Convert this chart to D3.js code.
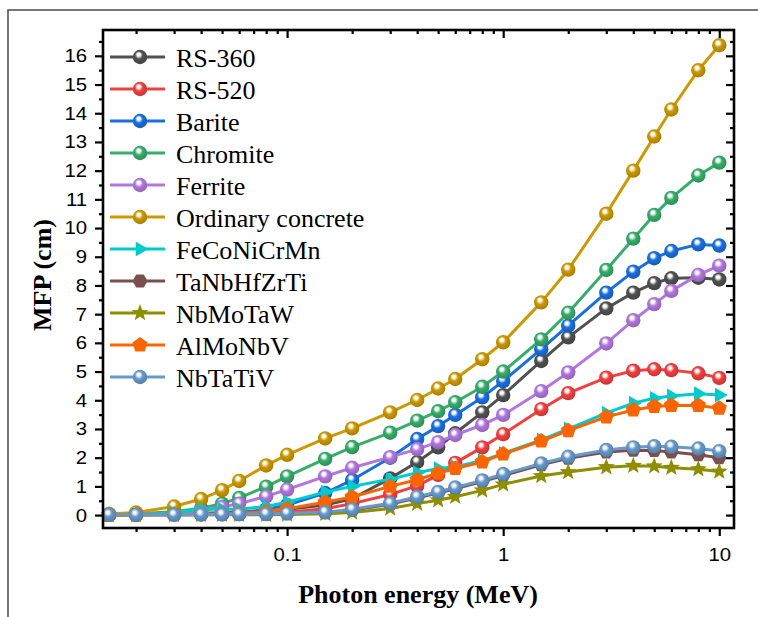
<!DOCTYPE html>
<html><head><meta charset="utf-8">
<script src="https://cdn.jsdelivr.net/npm/d3@7"></script>
<style>body{margin:0;background:#fff}svg{display:block}</style>
</head><body>
<svg id="c" width="758" height="617"></svg>
<script>
const energies = [0.015,0.02,0.03,0.04,0.05,0.06,0.08,0.1,0.15,0.2,0.3,0.4,0.5,0.6,0.8,1,1.5,2,3,4,5,6,8,10];
const seriesNames = ["RS-360","RS-520","Barite","Chromite","Ferrite","Ordinary concrete","FeCoNiCrMn","TaNbHfZrTi","NbMoTaW","AlMoNbV","NbTaTiV"];
const rs360    = [0.01,0.02,0.04,0.06,0.08,0.10,0.14,0.20,0.35,0.57,1.28,1.85,2.36,2.85,3.58,4.18,5.37,6.19,7.20,7.75,8.08,8.25,8.27,8.21];
const rs520    = [0.01,0.01,0.02,0.03,0.04,0.05,0.07,0.10,0.22,0.40,0.72,1.02,1.40,1.82,2.36,2.82,3.69,4.25,4.79,5.03,5.08,5.05,4.94,4.78];
const barite   = [0.02,0.03,0.05,0.04,0.06,0.08,0.20,0.35,0.77,1.22,2.00,2.65,3.10,3.49,4.10,4.67,5.78,6.60,7.75,8.48,8.95,9.20,9.43,9.39];
const chromite = [0.02,0.05,0.12,0.24,0.40,0.60,0.99,1.35,1.96,2.37,2.87,3.29,3.62,3.93,4.47,5.00,6.12,7.05,8.54,9.63,10.46,11.05,11.83,12.28];
const ferrite  = [0.01,0.02,0.06,0.15,0.28,0.40,0.65,0.89,1.35,1.65,2.02,2.30,2.54,2.79,3.14,3.49,4.32,4.97,5.98,6.79,7.35,7.81,8.37,8.69];
const concrete = [0.04,0.09,0.30,0.56,0.87,1.19,1.73,2.10,2.67,3.02,3.58,4.01,4.41,4.74,5.43,6.02,7.41,8.55,10.50,12.00,13.19,14.13,15.50,16.37];
const feconicrmn=[0.01,0.02,0.08,0.20,0.20,0.20,0.30,0.45,0.80,1.00,1.25,1.48,1.62,1.68,1.90,2.15,2.62,3.00,3.55,3.90,4.07,4.15,4.23,4.18];
const tanbhfzrti=[0.005,0.01,0.01,0.01,0.02,0.02,0.03,0.05,0.08,0.17,0.38,0.60,0.77,0.92,1.17,1.38,1.75,1.98,2.20,2.26,2.25,2.20,2.10,2.00];
const nbmotaw  = [0.0,0.0,0.0,0.01,0.01,0.01,0.01,0.02,0.05,0.09,0.23,0.40,0.52,0.64,0.86,1.07,1.36,1.50,1.67,1.72,1.70,1.65,1.60,1.52];
const almonbv  = [0.0,0.01,0.02,0.03,0.04,0.06,0.12,0.22,0.45,0.63,1.00,1.23,1.46,1.62,1.85,2.13,2.58,2.94,3.42,3.66,3.78,3.82,3.82,3.72];
const nbtativ  = [0.01,0.01,0.01,0.02,0.02,0.03,0.04,0.06,0.10,0.20,0.41,0.64,0.81,0.96,1.21,1.43,1.80,2.03,2.27,2.36,2.40,2.38,2.32,2.23];
const seriesValues = [rs360,rs520,barite,chromite,ferrite,concrete,feconicrmn,tanbhfzrti,nbmotaw,almonbv,nbtativ];
const colors = ["#515151","#F14040","#1A6FDF","#37AD6B","#B177DE","#CC9900","#00CBCC","#7D4E4E","#8E8E00","#FB6501","#6699CC"];
const shapes = ["sphere","sphere","sphere","sphere","sphere","sphere","triangle","hexagon","star","pentagon","sphere"];
const yTicks = d3.range(0,17,1);
const xTicks = [0.1,1,10];

const svg = d3.select("#c");
const L=103, R=734, T=30, B=528;
const x = d3.scaleLog().domain([0.01406,11.7]).range([L,R]);
const y = d3.scaleLinear().domain([-0.45,16.9]).range([B,T]);

// outer frame
svg.append("rect").attr("x",8).attr("y",10).attr("width",780).attr("height",640)
  .attr("fill","none").attr("stroke","#555").attr("stroke-width",1.6);

const defs = svg.append("defs");
colors.forEach((c,i)=>{
  const g = defs.append("radialGradient").attr("id","g"+i).attr("cx","0.45").attr("cy","0.42").attr("r","0.6")
    .attr("fx","0.4").attr("fy","0.33");
  g.append("stop").attr("offset","0%").attr("stop-color","#fff");
  g.append("stop").attr("offset","18%").attr("stop-color","#fff").attr("stop-opacity",0.9);
  g.append("stop").attr("offset","45%").attr("stop-color",c);
  g.append("stop").attr("offset","100%").attr("stop-color",d3.color(c).darker(0.6));
});

function polyPath(n, r, rot){
  const pts=[];
  for(let k=0;k<n;k++){const a=rot+k*2*Math.PI/n; pts.push([r*Math.cos(a), r*Math.sin(a)]);}
  return "M"+pts.map(p=>p.join(",")).join("L")+"Z";
}
function starPath(r1,r2){
  const pts=[];
  for(let k=0;k<10;k++){const a=-Math.PI/2+k*Math.PI/5; const r=k%2?r2:r1; pts.push([r*Math.cos(a), r*Math.sin(a)]);}
  return "M"+pts.map(p=>p.join(",")).join("L")+"Z";
}
function drawMarker(g, shape, i, cx, cy){
  const c = colors[i];
  if(shape==="sphere"){
    g.append("circle").attr("cx",cx).attr("cy",cy).attr("r",7.2).attr("fill","url(#g"+i+")");
  } else if(shape==="triangle"){
    g.append("path").attr("transform",`translate(${cx},${cy})`).attr("d",polyPath(3,8.5,0)).attr("fill",c);
  } else if(shape==="hexagon"){
    g.append("path").attr("transform",`translate(${cx},${cy})`).attr("d",polyPath(6,7.5,0)).attr("fill",c);
  } else if(shape==="star"){
    g.append("path").attr("transform",`translate(${cx},${cy})`).attr("d",starPath(9,3.8)).attr("fill",c);
  } else if(shape==="pentagon"){
    g.append("path").attr("transform",`translate(${cx},${cy})`).attr("d",polyPath(5,8,-Math.PI/2)).attr("fill",c);
  }
}

const plot = svg.append("g");
const line = d3.line().x(d=>x(d[0])).y(d=>y(d[1]));
seriesValues.forEach((vals,i)=>{
  const data = energies.map((e,k)=>[e,vals[k]]);
  const g = plot.append("g");
  g.append("path").datum(data).attr("d",line).attr("fill","none").attr("stroke",colors[i]).attr("stroke-width",3).attr("stroke-linejoin","round");
  data.forEach(d=>drawMarker(g, shapes[i], i, x(d[0]), y(d[1])));
});

// axes
const axG = svg.append("g");
const minorX = [];
for(let dec=-2; dec<=1; dec++) for(let m=1;m<=9;m++){const v=m*Math.pow(10,dec); if(v>=0.01406&&v<=11.7&&m!==1) minorX.push(v);}
const minorY = d3.range(-0.5,17,1).filter(v=>v>=-0.45&&v<=16.9);

// bottom (outward)
axG.append("g").attr("class","lab").attr("transform",`translate(0,${B})`)
  .call(d3.axisBottom(x).tickValues(xTicks).tickFormat(d3.format("~g")).tickSize(8).tickPadding(12))
  .call(g=>g.select(".domain").remove());
axG.append("g").attr("transform",`translate(0,${B})`)
  .call(d3.axisBottom(x).tickValues(minorX).tickFormat("").tickSize(4))
  .call(g=>g.select(".domain").remove());
// top (inward)
axG.append("g").attr("transform",`translate(0,${T})`)
  .call(d3.axisBottom(x).tickValues(xTicks).tickFormat("").tickSize(8))
  .call(g=>g.select(".domain").remove());
axG.append("g").attr("transform",`translate(0,${T})`)
  .call(d3.axisBottom(x).tickValues(minorX).tickFormat("").tickSize(4))
  .call(g=>g.select(".domain").remove());
// left (outward)
axG.append("g").attr("class","lab").attr("transform",`translate(${L},0)`)
  .call(d3.axisLeft(y).tickValues(yTicks).tickFormat(d3.format("d")).tickSize(8).tickPadding(6.5))
  .call(g=>g.select(".domain").remove());
axG.append("g").attr("transform",`translate(${L},0)`)
  .call(d3.axisLeft(y).tickValues(minorY).tickFormat("").tickSize(4))
  .call(g=>g.select(".domain").remove());
// right (inward)
axG.append("g").attr("transform",`translate(${R},0)`)
  .call(d3.axisLeft(y).tickValues(yTicks).tickFormat("").tickSize(8))
  .call(g=>g.select(".domain").remove());
axG.append("g").attr("transform",`translate(${R},0)`)
  .call(d3.axisLeft(y).tickValues(minorY).tickFormat("").tickSize(4))
  .call(g=>g.select(".domain").remove());

axG.selectAll(".tick line").attr("stroke","#000").attr("stroke-width",2.2);
axG.selectAll(".tick text").attr("font-family","Liberation Sans, Arial, sans-serif").attr("font-size",18.5)
  .attr("fill","#000").attr("transform","scale(1.1,1)");

svg.append("rect").attr("x",L).attr("y",T).attr("width",R-L).attr("height",B-T)
  .attr("fill","none").attr("stroke","#000").attr("stroke-width",2.6);

// titles
svg.append("text").attr("x",418).attr("y",603).attr("text-anchor","middle")
  .attr("font-family","Liberation Serif, Times New Roman, serif").attr("font-weight","bold").attr("font-size",26)
  .text("Photon energy (MeV)");
svg.append("text").attr("transform","translate(51,275) rotate(-90)").attr("text-anchor","middle")
  .attr("font-family","Liberation Serif, Times New Roman, serif").attr("font-weight","bold").attr("font-size",26)
  .text("MFP (cm)");

// legend
const leg = svg.append("g");
seriesNames.forEach((n,i)=>{
  const ly = 57 + i*32;
  leg.append("line").attr("x1",110).attr("x2",165).attr("y1",ly).attr("y2",ly).attr("stroke",colors[i]).attr("stroke-width",3);
  drawMarker(leg, shapes[i], i, 140, ly);
  leg.append("text").attr("x",176).attr("y",ly+9.5).attr("font-family","Liberation Serif, Times New Roman, serif")
    .attr("font-size",26).attr("fill","#000").text(n);
});
</script>
</body></html>
